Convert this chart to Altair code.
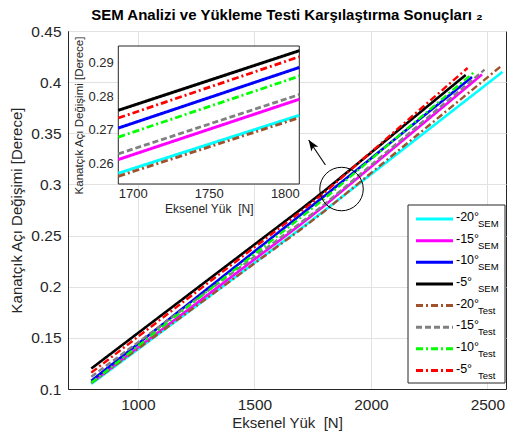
import altair as alt
import pandas as pd

# ---------------- data ----------------
series = ["-20 SEM", "-15 SEM", "-10 SEM", "-5 SEM",
          "-20 Test", "-15 Test", "-10 Test", "-5 Test"]
angle_labels = ["-20°", "-15°", "-10°", "-5°", "-20°", "-15°", "-10°", "-5°"]
sub_labels = ["SEM", "SEM", "SEM", "SEM", "Test", "Test", "Test", "Test"]
colors = ["#00FFFF", "#FF00FF", "#0000FF", "#000000",
          "#A0522D", "#808080", "#00FF00", "#FF0000"]
dashes = [[1, 0], [1, 0], [1, 0], [1, 0],
          [7, 3, 2, 3], [6, 3], [7, 3, 2, 3], [7, 3, 2, 3]]

load_sem_m20 = [800, 1700, 1800, 2565]
ang_sem_m20 = [0.105, 0.2570, 0.2743, 0.4100]
load_sem_m15 = [800, 1700, 1800, 2477]
ang_sem_m15 = [0.106, 0.2611, 0.2791, 0.4075]
load_sem_m10 = [800, 1700, 1800, 2434]
ang_sem_m10 = [0.108, 0.2705, 0.2886, 0.4050]
load_sem_m5 = [800, 1700, 1800, 2407]
ang_sem_m5 = [0.120, 0.2758, 0.2936, 0.4070]
load_test_m20 = [800, 1700, 1800, 2565]
ang_test_m20 = [0.106, 0.2561, 0.2736, 0.4168]
load_test_m15 = [800, 1700, 1800, 2488]
ang_test_m15 = [0.112, 0.2628, 0.2805, 0.4122]
load_test_m10 = [800, 1700, 1800, 2444]
ang_test_m10 = [0.106, 0.2678, 0.2860, 0.4100]
load_test_m5 = [800, 1700, 1800, 2415]
ang_test_m5 = [0.116, 0.2735, 0.2918, 0.4138]

x_ticks = [1000, 1500, 2000, 2500]
y_ticks = [0.1, 0.15, 0.2, 0.25, 0.3, 0.35, 0.4, 0.45]
inset_x_ticks = [1700, 1750, 1800]
inset_y_ticks = [0.26, 0.27, 0.28, 0.29]

# zoom annotation (circle) and arrow, in data units
circle_load = [1874]
circle_angle = [0.2955]
arrow_load = [1805, 1733]
arrow_angle = [0.319, 0.3434]

# ---------------- tables ----------------
loads = [load_sem_m20, load_sem_m15, load_sem_m10, load_sem_m5,
         load_test_m20, load_test_m15, load_test_m10, load_test_m5]
angles = [ang_sem_m20, ang_sem_m15, ang_sem_m10, ang_sem_m5,
          ang_test_m20, ang_test_m15, ang_test_m10, ang_test_m5]
rows = []
for s, ls, angs in zip(series, loads, angles):
    for i, (l, a) in enumerate(zip(ls, angs)):
        rows.append({"series": s, "kind": s.split(" ")[1], "load": l, "angle": a, "i": i})
df = pd.DataFrame(rows)
df_sem = df[df.kind == "SEM"]
df_test = df[df.kind == "Test"]
inset_df = df[(df.load >= 1700) & (df.load <= 1800)]
inset_sem = inset_df[inset_df.kind == "SEM"]
inset_test = inset_df[inset_df.kind == "Test"]

legend_df = pd.DataFrame({"series": series, "ang": angle_labels, "sub": sub_labels})
circle_df = pd.DataFrame({"load": circle_load, "angle": circle_angle})
arrow_df = pd.DataFrame({"load": [arrow_load[0]], "angle": [arrow_angle[0]],
                         "load2": [arrow_load[1]], "angle2": [arrow_angle[1]]})
head_df = pd.DataFrame({"load": [arrow_load[1]], "angle": [arrow_angle[1]]})
inset_box = pd.DataFrame({"x": [1700], "x2": [1800], "y": [0.2538], "y2": [0.295]})
one = pd.DataFrame({"a": [0]})

FONT = "Liberation Sans"
INK = "#262626"

color_enc = alt.Color("series:N", scale=alt.Scale(domain=series, range=colors), legend=None)
dash_enc = alt.StrokeDash("series:N", scale=alt.Scale(domain=series, range=dashes), legend=None)

# ---------------- main plot ----------------
xs = alt.Scale(domain=[700, 2580], nice=False, zero=False)
ys = alt.Scale(domain=[0.1, 0.45], nice=False, zero=False)
x_main = alt.X("load:Q", scale=xs,
               axis=alt.Axis(values=x_ticks, title="Eksenel Yük\u00a0 [N]", grid=True, ticks=False,
                             labelFontSize=15.5, titleFontSize=15, labelPadding=8, titlePadding=3,
                             orient="bottom", format="d"))
y_main = alt.Y("angle:Q", scale=ys,
               axis=alt.Axis(values=y_ticks, title="Kanatçık Açı Değişimi [Derece]", grid=True,
                             ticks=False, labelFontSize=15.5, titleFontSize=15, labelPadding=7,
                             titlePadding=6, format="~g", orient="left"))

sem_lines = alt.Chart(df_sem).mark_line(strokeWidth=2.6).encode(
    x=x_main, y=y_main, color=color_enc, strokeDash=dash_enc, order="i:Q")
test_lines = alt.Chart(df_test).mark_line(strokeWidth=2.4).encode(
    x="load:Q", y="angle:Q", color=color_enc, strokeDash=dash_enc, order="i:Q")
circle = alt.Chart(circle_df).mark_point(shape="circle", size=1890, filled=False, color="black",
                                         strokeWidth=1, opacity=1).encode(x="load:Q", y="angle:Q")
arrow_line = alt.Chart(arrow_df).mark_rule(color="black", strokeWidth=1.1).encode(
    x="load:Q", y="angle:Q", x2="load2:Q", y2="angle2:Q")
arrow_head = alt.Chart(head_df).mark_point(
    shape="M0,0L-0.65,1.7L0,1.25L0.65,1.7Z", size=170, filled=True, color="black",
    opacity=1, angle=326, strokeWidth=0).encode(x="load:Q", y="angle:Q")
main = alt.layer(sem_lines, test_lines, circle, arrow_line, arrow_head)

# ---------------- inset ----------------
xi = alt.Scale(domain=[1700, 1800], range=[50.3, 231.3], nice=False, zero=False)
yi = alt.Scale(domain=[0.2538, 0.295], range=[153, 15], nice=False, zero=False)
inset_rect = alt.Chart(inset_box).mark_rect(fill="white", stroke=INK, strokeWidth=1).encode(
    x=alt.X("x:Q", scale=xi,
            axis=alt.Axis(orient="bottom", offset=-205, values=inset_x_ticks, grid=False, ticks=False,
                          domain=False, labelFontSize=13, title="Eksenel Yük\u00a0 [N]",
                          titleFontSize=12, labelPadding=3, titlePadding=3, format="d")),
    x2="x2:Q",
    y=alt.Y("y:Q", scale=yi,
            axis=alt.Axis(orient="left", offset=-50.3, values=inset_y_ticks, grid=False, ticks=False,
                          domain=False, labelFontSize=13, title="Kanatçık Açı Değişimi [Derece]",
                          titleFontSize=11.5, labelPadding=5, titlePadding=3, format=".2f")),
    y2="y2:Q")
inset_sem_l = alt.Chart(inset_sem).mark_line(strokeWidth=3).encode(
    x="load:Q", y="angle:Q", color=color_enc, strokeDash=dash_enc)
inset_test_l = alt.Chart(inset_test).mark_line(strokeWidth=2.8).encode(
    x="load:Q", y="angle:Q", color=color_enc, strokeDash=dash_enc)
inset = alt.layer(inset_rect, inset_sem_l, inset_test_l)

# ---------------- legend ----------------
ly = alt.Y("series:N", scale=alt.Scale(type="point", domain=series, range=[188, 339.5], padding=0),
           axis=None)
leg_box = alt.Chart(one).mark_rect(fill="white", stroke=INK, strokeWidth=1).encode(
    x=alt.value(340), x2=alt.value(437), y=alt.value(174), y2=alt.value(352))
leg_lines = alt.Chart(legend_df).mark_rule(strokeWidth=3).encode(
    x=alt.value(348), x2=alt.value(385), y=ly, color=color_enc, strokeDash=dash_enc)
leg_ang = alt.Chart(legend_df).mark_text(align="left", baseline="middle", fontSize=12.5, dy=-2,
                                         font=FONT, color="black").encode(
    x=alt.value(388), y=ly, text="ang:N")
leg_sub = alt.Chart(legend_df).mark_text(align="left", baseline="middle", fontSize=9.5, dy=5,
                                         font=FONT, color="black").encode(
    x=alt.value(410), y=ly, text="sub:N")
legend = alt.layer(leg_box, leg_lines, leg_ang, leg_sub)

chart = alt.layer(main, inset, legend).resolve_scale(
    x="independent", y="independent"
).properties(
    width=438, height=358,
    padding={"left": 68, "top": 31, "right": 3, "bottom": 56},
    autosize=alt.AutoSizeParams(type="none"),
    title=alt.TitleParams(text="SEM Analizi ve Yükleme Testi Karşılaştırma Sonuçları ₂",
                          fontSize=15, fontWeight="bold", font=FONT, color="black",
                          anchor="middle", frame="group", offset=4, dy=15, baseline="alphabetic")
).configure_view(stroke=INK, strokeWidth=1).configure_axis(
    labelFont=FONT, titleFont=FONT, labelColor=INK, titleColor=INK, domainColor=INK,
    gridColor="#e2e2e2", titleFontWeight="normal"
)

chart.save("out.html", embed_options={"renderer": "svg", "actions": False})
